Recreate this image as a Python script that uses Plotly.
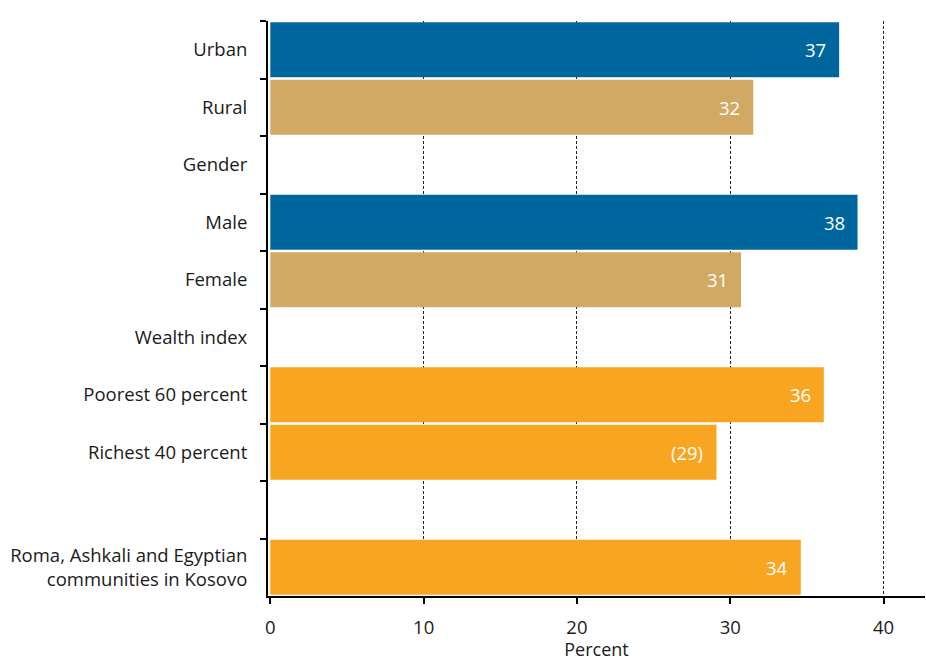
import plotly.graph_objects as go

# Share of children (percent) by background characteristic
categories = [
    "Urban", "Rural", "Gender", "Male", "Female", "Wealth index",
    "Poorest 60 percent", "Richest 40 percent", " ",
    "Roma, Ashkali and Egyptian<br>communities in Kosovo",
]
values = [37.1, 31.5, None, 38.3, 30.7, None, 36.1, 29.1, None, 34.6]
value_labels = ["37", "32", "", "38", "31", "", "36", "(29)", "", "34"]
bar_colors = ["#00679E", "#D1A964", None, "#00679E", "#D1A964", None,
              "#F8A521", "#F8A521", None, "#F8A521"]

FONT = "Open Sans"

fig = go.Figure(
    go.Bar(
        y=categories,
        x=values,
        orientation="h",
        marker=dict(color=[c or "#ffffff" for c in bar_colors], line=dict(width=0)),
        hoverinfo="skip",
    )
)

# value labels placed just inside the bar ends
for cat, v, lab in zip(categories, values, value_labels):
    if v is None:
        continue
    fig.add_annotation(
        x=v, y=cat, text=lab, showarrow=False,
        xanchor="right", xshift=-11,
        font=dict(family=FONT, size=18.5, color="white"),
    )

fig.update_layout(
    width=926, height=661,
    margin=dict(l=268, r=1, t=21, b=65),
    plot_bgcolor="white", paper_bgcolor="white",
    bargap=0.04,
    showlegend=False,
    font=dict(family=FONT, size=18.5, color="#1a1a1a"),
)
fig.update_xaxes(
    range=[-0.15, 42.7],
    tickvals=[0, 10, 20, 30, 40],
    showgrid=True, gridcolor="#222222", gridwidth=1, griddash="3px,2px",
    zeroline=True, zerolinecolor="white", zerolinewidth=1,
    showline=True, linecolor="black", linewidth=2,
    ticks="outside", ticklen=6, tickwidth=2, tickcolor="black",
    ticklabelstandoff=8,
    title=dict(text="Percent", font=dict(size=18), standoff=3),
    tickfont=dict(size=18.5),
)
fig.update_yaxes(
    autorange="reversed",
    showgrid=False,
    showline=True, linecolor="black", linewidth=2,
    ticks="outside", tickson="boundaries", ticklen=6, tickwidth=2, tickcolor="black",
    ticklabelstandoff=15,
    tickfont=dict(size=18.5),
)

fig.write_html("out.html")
